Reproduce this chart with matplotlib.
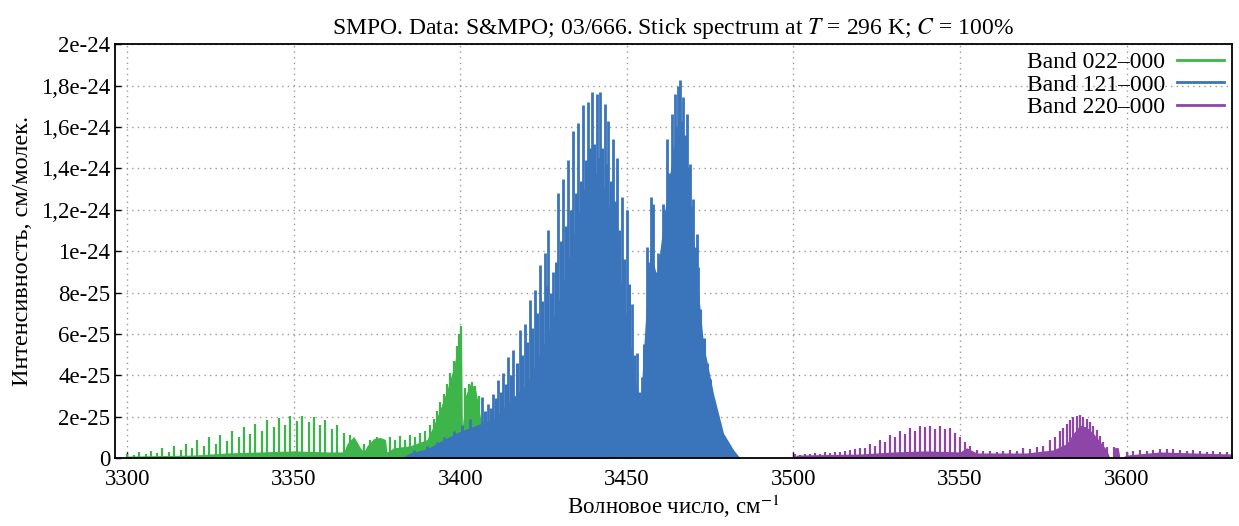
import matplotlib
matplotlib.use("Agg")
import matplotlib.pyplot as plt
from matplotlib.lines import Line2D

plt.rcParams["font.family"] = ["Liberation Serif", "DejaVu Serif"]
plt.rcParams["mathtext.fontset"] = "stix"

SCALE = 1e-25

# Band 022-000 (green): sticks and the dense base (units of 1e-25)
green_x = [3300.0, 3302.0, 3303.5, 3305.5, 3307.0, 3309.0, 3310.5, 3312.5, 3314.0, 3316.0,
           3317.5, 3319.5, 3321.0, 3323.0, 3324.5, 3326.5, 3328.0, 3330.0, 3331.5, 3333.5,
           3335.0, 3337.0, 3338.5, 3340.5, 3342.0, 3344.0, 3345.5, 3347.5, 3349.0, 3351.0,
           3352.5, 3354.5, 3356.0, 3358.0, 3359.5, 3361.5, 3363.0, 3365.0,
           3367.0, 3368.5, 3371.0, 3373.0, 3375.0, 3377.0, 3379.0, 3380.5, 3382.0, 3383.5,
           3385.0, 3386.5, 3388.0, 3389.5,
           3391.0, 3392.0, 3393.0, 3394.0, 3395.0, 3396.0, 3397.0, 3398.0, 3399.0, 3399.7,
           3400.2, 3401.5, 3402.5, 3403.5, 3404.5, 3405.5, 3406.5, 3408.0, 3410.0, 3413.0,
           3416.0, 3420.0, 3424.0, 3428.0, 3432.0, 3436.0, 3440.0, 3444.0]
green_h = [0.2, 0.15, 0.3, 0.2, 0.35, 0.25, 0.5, 0.3, 0.6, 0.4,
           0.7, 0.5, 0.9, 0.6, 1.0, 0.7, 1.1, 0.85, 1.3, 1.0,
           1.5, 1.15, 1.65, 1.3, 1.85, 1.5, 1.95, 1.6, 2.05, 1.8,
           2.05, 1.75, 2.0, 1.6, 1.85, 1.4, 1.6, 1.2,
           1.1, 0.8, 0.7, 0.9, 1.0, 0.8, 1.0, 0.9, 1.05, 0.9,
           1.1, 1.0, 1.2, 1.3,
           1.6, 1.9, 2.3, 2.7, 3.1, 3.6, 4.1, 4.7, 5.4, 6.0,
           6.4, 3.4, 3.6, 3.7, 3.5, 3.0, 1.8, 1.2, 1.1, 1.0,
           1.0, 0.9, 0.9, 0.8, 0.7, 0.6, 0.5, 0.4]
green_base_x = [3299.0, 3300.0, 3320.0, 3330.0, 3340.0, 3350.0, 3360.0, 3365.0, 3366.0, 3368.0,
                3370.0, 3371.0, 3372.0, 3374.0, 3376.0, 3377.5, 3378.0, 3380.0, 3385.0, 3390.0,
                3392.0, 3394.0, 3396.0, 3398.0, 3399.5, 3400.3, 3400.6, 3401.5, 3403.0, 3404.5,
                3406.0, 3408.0, 3412.0, 3420.0, 3440.0, 3445.0]
green_base_y = [0.0, 0.1, 0.15, 0.25, 0.3, 0.35, 0.3, 0.3, 0.7, 1.05,
                0.5, 0.3, 0.6, 0.95, 1.0, 0.9, 0.3, 0.5, 0.6, 0.9,
                1.6, 2.4, 3.3, 4.4, 5.6, 6.2, 1.5, 3.0, 3.6, 3.4,
                2.0, 1.0, 0.6, 0.4, 0.2, 0.0]

# Band 121-000 (blue): strong lines, weaker lines in between, dense base
blue_x = [3386.0, 3390.0, 3393.0, 3395.0, 3398.0, 3400.5, 3403.0,
          3406.4, 3408.4, 3409.9, 3411.4, 3412.9, 3414.4, 3415.9, 3417.9, 3419.4, 3420.9,
          3422.4, 3423.9, 3425.4, 3426.4, 3427.9, 3429.4, 3430.9, 3432.4, 3433.9, 3435.4,
          3436.9, 3438.4, 3439.6, 3440.9, 3441.9, 3443.4, 3444.4, 3445.9, 3446.9, 3448.4,
          3449.9, 3451.4, 3452.9, 3454.4, 3455.9, 3457.1, 3457.9, 3459.4, 3460.7, 3461.9,
          3463.4, 3464.4, 3465.2, 3465.9, 3466.9, 3467.9, 3468.9, 3469.9, 3470.9, 3471.4]
blue_h = [0.4, 0.6, 0.8, 1.0, 1.3, 1.6, 1.9,
          2.96, 2.64, 3.12, 3.77, 4.09, 4.89, 5.22, 6.18, 6.5, 7.63,
          8.12, 9.32, 9.89, 11.0, 9.0, 12.8, 13.5, 14.4, 15.8, 16.2,
          17.05, 17.2, 17.7, 17.6, 17.7, 17.1, 16.3, 15.4, 14.5, 12.6,
          12.0, 7.47, 5.06, 3.93, 10.2, 12.6, 12.3, 9.89, 12.3, 15.4,
          16.65, 17.6, 18.0, 18.26, 17.45, 16.65, 14.2, 12.5, 10.85, 9.24]
blue_x2 = [3407.4, 3409.2, 3410.6, 3412.2, 3413.6, 3415.2, 3416.9, 3418.6, 3420.1, 3421.6,
           3423.1, 3424.6, 3425.9, 3427.2, 3428.6, 3430.1, 3431.6, 3433.1, 3434.6, 3436.1,
           3437.6, 3439.0, 3440.2, 3441.4, 3442.6, 3443.9, 3445.1, 3446.4, 3447.6, 3449.1,
           3450.6, 3452.1, 3453.6, 3455.1, 3456.5, 3458.6, 3460.0, 3461.3, 3462.6, 3463.9,
           3464.8, 3466.4, 3467.4, 3468.4, 3469.4, 3470.4, 3472.0, 3473.0, 3474.0, 3475.0]
blue_h2 = [2.3, 2.4, 2.9, 3.2, 3.6, 4.0, 4.6, 5.0, 5.6, 6.3,
           7.0, 7.6, 8.3, 8.0, 9.5, 10.5, 11.2, 12.0, 12.8, 13.4,
           14.4, 15.0, 15.2, 14.5, 15.0, 14.2, 13.4, 12.4, 11.0, 9.6,
           8.4, 5.0, 3.2, 5.5, 9.5, 9.0, 9.5, 12.0, 13.8, 15.0,
           16.0, 16.3, 15.6, 14.0, 12.2, 10.2, 7.2, 5.8, 4.6, 3.8]
blue_base_x = [3382.0, 3385.0, 3390.0, 3395.0, 3400.0, 3405.0, 3410.0, 3415.0, 3420.0, 3425.0,
               3430.0, 3435.0, 3438.0, 3441.0, 3444.0, 3448.0, 3451.5, 3453.9, 3455.4, 3457.0,
               3459.0, 3462.0, 3465.0, 3468.0, 3471.0, 3473.0, 3476.0, 3479.0, 3482.0, 3484.0]
blue_base_y = [0.0, 0.25, 0.45, 0.9, 1.3, 1.6, 1.9, 2.8, 3.6, 5.5,
               7.8, 11.5, 13.6, 13.8, 12.8, 8.8, 5.0, 2.2, 6.3, 10.0,
               8.8, 12.8, 16.0, 14.4, 8.8, 5.5, 3.1, 1.2, 0.4, 0.0]

# Band 220-000 (purple)
purple_x = [3500.5, 3502.0, 3503.5, 3505.0, 3506.5, 3508.0, 3509.5, 3511.0, 3512.5, 3514.0,
            3515.5, 3517.0, 3518.5, 3520.0, 3521.5, 3523.0, 3524.5, 3526.0, 3527.5, 3529.0,
            3530.5, 3532.0, 3533.5, 3535.0, 3536.5, 3538.0, 3539.5, 3541.0, 3542.5, 3544.0,
            3545.5, 3547.0, 3548.5, 3550.0, 3551.5, 3553.0, 3555.0, 3557.0, 3559.0, 3561.0,
            3563.0, 3565.0, 3567.0, 3569.0, 3571.0, 3573.0, 3575.0, 3577.0, 3578.5, 3580.0,
            3581.0, 3582.0, 3583.0, 3584.0, 3585.0, 3586.0, 3587.0, 3588.0, 3589.0, 3590.0,
            3591.0, 3592.0, 3593.0, 3594.0, 3596.2, 3597.0, 3600.0, 3602.0, 3604.0, 3606.0,
            3608.0, 3610.0, 3612.0, 3614.0, 3616.0, 3618.0, 3620.0, 3622.0, 3624.0, 3626.0,
            3628.0, 3630.0]
purple_h = [0.2, 0.15, 0.2, 0.2, 0.25, 0.2, 0.3, 0.25, 0.3, 0.3,
            0.35, 0.4, 0.45, 0.5, 0.5, 0.7, 0.6, 0.9, 0.8, 1.1,
            1.0, 1.3, 1.15, 1.45, 1.3, 1.55, 1.5, 1.55, 1.4, 1.55,
            1.4, 1.45, 1.2, 1.0, 0.8, 0.6, 0.4, 0.35, 0.35, 0.3,
            0.35, 0.4, 0.35, 0.5, 0.45, 0.55, 0.6, 0.9, 1.0, 1.3,
            1.45, 1.65, 1.85, 2.0, 2.05, 2.08, 2.0, 1.9, 1.75, 1.55,
            1.35, 1.05, 0.8, 0.55, 0.55, 0.5, 0.3, 0.35, 0.4, 0.35,
            0.4, 0.45, 0.45, 0.45, 0.4, 0.35, 0.4, 0.35, 0.3, 0.35,
            0.3, 0.3]
purple_base_x = [3500.0, 3501.0, 3520.0, 3530.0, 3540.0, 3550.0, 3552.0, 3555.0, 3570.0, 3578.0,
                 3582.0, 3584.0, 3586.0, 3588.0, 3590.0, 3592.0, 3594.0, 3595.0, 3595.8, 3596.0,
                 3597.5, 3598.0, 3600.0, 3610.0, 3620.0, 3632.0]
purple_base_y = [0.0, 0.15, 0.2, 0.3, 0.35, 0.3, 0.5, 0.25, 0.25, 0.4,
                 0.7, 1.2, 1.6, 1.5, 1.2, 0.8, 0.4, 0.0, 0.0, 0.5,
                 0.5, 0.0, 0.15, 0.3, 0.25, 0.2]

labels = ["Band 022–000", "Band 121–000", "Band 220–000"]
colors = ["#3db54a", "#3a74ba", "#8e45a8"]

y_ticks = [0, 2e-25, 4e-25, 6e-25, 8e-25, 1e-24, 1.2e-24, 1.4e-24, 1.6e-24, 1.8e-24, 2e-24]
y_labels = ["0", "2e-25", "4e-25", "6e-25", "8e-25", "1e-24",
            "1,2e-24", "1,4e-24", "1,6e-24", "1,8e-24", "2e-24"]
x_ticks = [3300, 3350, 3400, 3450, 3500, 3550, 3600]

fig = plt.figure(figsize=(12.39, 5.26), dpi=100)
ax = fig.add_axes([0.093, 0.129, 0.901, 0.787])

# green
ax.fill_between(green_base_x, [v * SCALE for v in green_base_y], 0,
                color=colors[0], linewidth=0, zorder=2)
ax.vlines(green_x, 0, [v * SCALE for v in green_h], color=colors[0], linewidth=1.6, zorder=2)

# blue
ax.fill_between(blue_base_x, [v * SCALE for v in blue_base_y], 0,
                color=colors[1], linewidth=0, zorder=2)
ax.vlines(blue_x2, 0, [v * SCALE for v in blue_h2], color=colors[1], linewidth=2.2, zorder=2)
ax.vlines(blue_x, 0, [v * SCALE for v in blue_h], color=colors[1], linewidth=2.0, zorder=2)

# purple
ax.fill_between(purple_base_x, [v * SCALE for v in purple_base_y], 0,
                color=colors[2], linewidth=0, zorder=2)
ax.vlines(purple_x, 0, [v * SCALE for v in purple_h], color=colors[2], linewidth=1.6, zorder=2)

ax.set_xlim(3296.4, 3631.5)
ax.set_ylim(0, 2e-24)
ax.set_xticks(x_ticks)
ax.set_yticks(y_ticks)
ax.set_yticklabels(y_labels)
ax.tick_params(direction="in", length=4, labelsize=16.5, width=1)
ax.tick_params(axis="x", pad=8)
ax.grid(True, color="#9a9a9a", linestyle=(0, (1, 3)), linewidth=1)
ax.set_axisbelow(True)
for s in ax.spines.values():
    s.set_linewidth(1.3)

ax.set_title("SMPO. Data: S&MPO; 03/666. Stick spectrum at $T$ = 296 K; $C$ = 100%",
             fontsize=17, pad=7)
ax.set_xlabel("Волновое число, см$^{-1}$", fontsize=16.5, labelpad=2)
ax.set_ylabel("Интенсивность, см/молек.", fontsize=17.5, labelpad=6)

handles = [Line2D([], [], color=c, linewidth=2) for c in colors]
ax.legend(handles, labels, loc="upper right", frameon=False, markerfirst=False,
          fontsize=17, handlelength=2.0, labelspacing=0.05,
          borderaxespad=0.1, borderpad=0.2, handletextpad=0.5)

fig.savefig("out.png", dpi=100)
